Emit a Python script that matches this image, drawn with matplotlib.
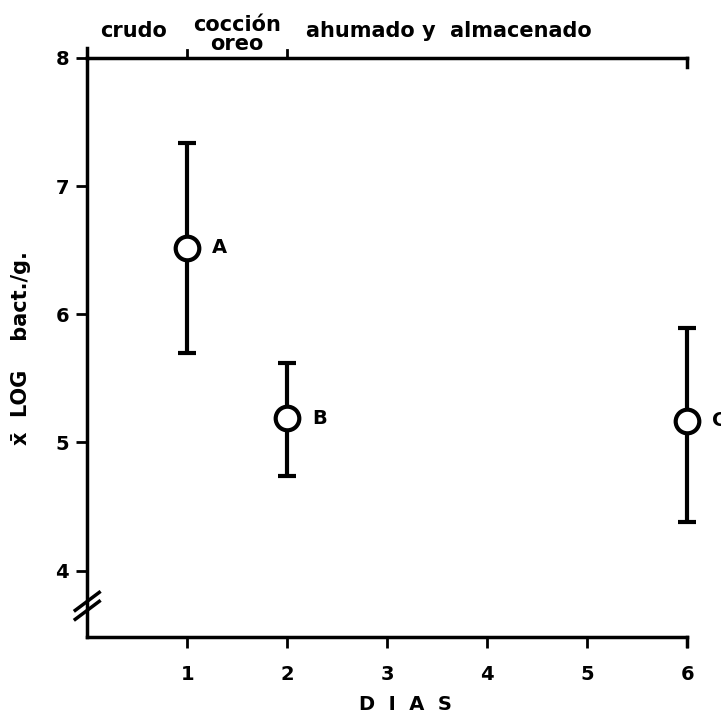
import matplotlib
matplotlib.use('Agg')
from matplotlib import pyplot as plt

# mean log counts and error bar limits
dias = [1, 2, 6]
media = [6.52, 5.19, 5.17]
sup = [7.34, 5.62, 5.89]
inf = [5.70, 4.74, 4.38]
etiquetas = ['A', 'B', 'C']

fases = ['crudo', 'cocción\noreo', 'ahumado y  almacenado']
fase_x = [0.46, 1.5, 3.62]
fase_y = [8.13, 8.03, 8.13]
limites = [1, 2]

plt.rcParams['font.family'] = ['DejaVu Sans']
plt.rcParams['font.weight'] = 'bold'

fig = plt.figure(figsize=(7.21, 7.16), dpi=100)
ax = fig.add_axes([0.121, 0.110, 0.832, 0.809])

err_lo = [m - l for m, l in zip(media, inf)]
err_hi = [h - m for m, h in zip(media, sup)]
eb = ax.errorbar(dias, media, yerr=[err_lo, err_hi], fmt='o', color='black',
                 ecolor='black', elinewidth=3, capsize=6.5, capthick=3,
                 markersize=17, markerfacecolor='white', markeredgewidth=3,
                 markeredgecolor='black', zorder=3)
for a in [eb[0], *eb[1], *eb[2]]:
    a.set_clip_on(False)
for d, m, t in zip(dias, media, etiquetas):
    ax.text(d + 0.25, m, t, fontsize=14, fontweight='bold', va='center', ha='left',
            clip_on=False)

ax.set_xlim(0, 6)
ax.set_ylim(3.48, 8)
ax.set_xticks([1, 2, 3, 4, 5, 6])
ax.set_yticks([4, 5, 6, 7, 8])
ax.tick_params(axis='both', direction='out', length=8, width=2, labelsize=14)
ax.tick_params(axis='x', pad=12)
ax.tick_params(axis='y', pad=5)

for s in ['left', 'bottom', 'top']:
    ax.spines[s].set_linewidth(2.5)
ax.spines['right'].set_visible(False)

# bracket ticks along the top line
for b in limites:
    ax.plot([b, b], [8, 8.06], color='black', lw=2, clip_on=False)
ax.plot([6, 6], [8, 7.93], color='black', lw=2.5, clip_on=False)
ax.plot([6, 6], [3.48, 3.41], color='black', lw=2.5, clip_on=False)
ax.plot([0, 0], [8, 8.08], color='black', lw=2.5, clip_on=False)

# axis break marks
ax.plot([-0.12, 0.12], [3.69, 3.83], color='black', lw=2.5, clip_on=False)
ax.plot([-0.12, 0.12], [3.62, 3.76], color='black', lw=2.5, clip_on=False)

for f, x, y in zip(fases, fase_x, fase_y):
    ax.text(x, y, f, fontsize=15, fontweight='bold', ha='center', va='bottom',
            linespacing=0.95, clip_on=False)

ax.text(3.18, 3.03, 'D  I  A  S', fontsize=14, fontweight='bold',
        ha='center', va='top', clip_on=False)
ax.set_ylabel('x̄  LOG    bact./g.', fontsize=15, fontweight='bold', labelpad=18)

plt.savefig('out.png', dpi=100)
